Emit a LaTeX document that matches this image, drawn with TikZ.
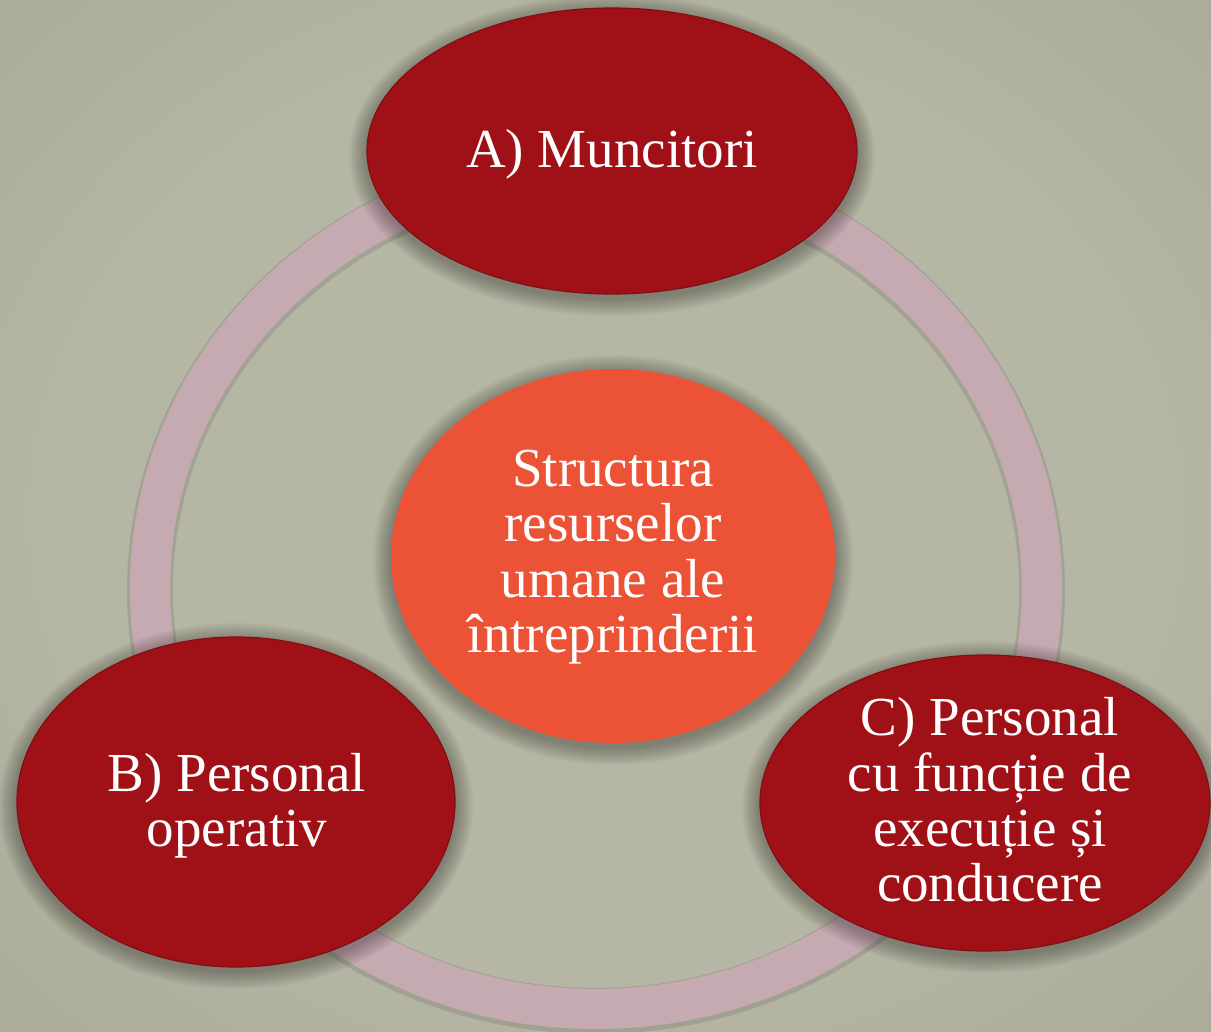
\documentclass[tikz,border=0pt]{standalone}
\usepackage{fontspec}
\setmainfont{Liberation Serif}
\usetikzlibrary{shapes.geometric,calc}
\definecolor{bgc}{RGB}{182,182,164}
\definecolor{bgdark}{RGB}{160,160,143}
\definecolor{ringc}{RGB}{198,170,178}
\definecolor{redc}{RGB}{160,17,23}
\definecolor{redrim}{RGB}{130,14,20}
\definecolor{orangec}{RGB}{236,82,54}
\pgfdeclareradialshading{vign}{\pgfpoint{0bp}{0bp}}{color(0bp)=(bgc); color(22bp)=(bgc); color(50bp)=(bgdark)}
\newcommand\softshadow[3]{%
  \foreach \k in {1,...,10} {%
    \fill[black,opacity=0.03] ([yshift=-2pt]#1) ellipse [x radius={#2+\k*0.9pt}, y radius={#3+\k*0.9pt}];
  }%
}
\tikzset{
  redell/.style={ellipse, fill=redc, draw=redrim, line width=0.6pt, inner sep=0pt},
  midell/.style={ellipse, fill=orangec, draw=none, inner sep=0pt},
  lbl/.style={text=white, align=center, inner sep=0pt, font=\fontsize{27.5}{27.7}\selectfont},
  ringline/.style={draw=ringc, line width=20pt},
  ringshadow/.style={draw=black, opacity=0.10, line width=23pt}
}
\begin{document}
\begin{tikzpicture}[x=0.5pt,y=-0.5pt]
\useasboundingbox (0,0) rectangle (1211,1032);
\shade[shading=vign] (0,0) rectangle (1211,1032);
\coordinate (cR) at (596,588);
\coordinate (cM) at (613,556);
\coordinate (cA) at (612,151);
\coordinate (cB) at (236,802);
\coordinate (cC) at (985,803);
% ring
\path[ringshadow] ([yshift=-1pt]cR) ellipse [x radius=223pt, y radius=210.5pt];
\path[ringline] (cR) ellipse [x radius=223pt, y radius=210.5pt];
% centre
\softshadow{cM}{111pt}{93.5pt}
\node[midell, minimum width=222pt, minimum height=187pt] (M) at (cM) {};
% outer ellipses
\softshadow{cA}{122.5pt}{71.5pt}
\node[redell, minimum width=245pt, minimum height=143pt] (A) at (cA) {};
\softshadow{cB}{109.5pt}{82.5pt}
\node[redell, minimum width=219pt, minimum height=165pt] (B) at (cB) {};
\softshadow{cC}{112.5pt}{74pt}
\node[redell, minimum width=225pt, minimum height=148pt] (C) at (cC) {};
% labels
\node[lbl] (tA) at (612,154) {A) Muncitori};
\node[lbl] (tM) at (613,557) {Structura\\resurselor\\umane ale\\întreprinderii};
\node[lbl] (tB) at (237,806) {B) Personal\\operativ};
\node[lbl] (tC) at (990,800) {C) Personal\\cu funcție de\\execuție și\\conducere};
\end{tikzpicture}
\end{document}
